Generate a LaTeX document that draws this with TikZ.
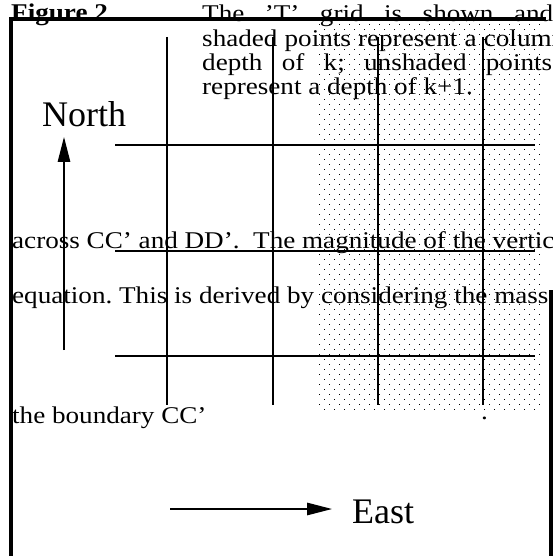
\documentclass[tikz,border=0pt]{standalone}
\usepackage{fontspec}
\setmainfont{Liberation Serif}
\newfontfamily\bodyf[FakeStretch=1.13]{Liberation Serif}
\usetikzlibrary{arrows.meta}
\frenchspacing
\tikzset{
  frameline/.style={line width=3.5pt},
  gridline/.style={line width=1.3pt},
  dirarrow/.style={line width=1.3pt,-{Triangle[length=25pt,width=12.5pt]}},
  bodytxt/.style={anchor=base west,inner sep=0pt,font=\bodyf\fontsize{24}{26}\selectfont},
  bigtxt/.style={anchor=base west,inner sep=0pt,font=\fontsize{36}{40}\selectfont},
}
\begin{document}
\begin{tikzpicture}[x=1pt,y=-1pt]
\useasboundingbox (0,0) rectangle (553,556);
\clip (0,0) rectangle (553,556);
% dotted shading
\foreach \k in {0,...,38}{
  \foreach \i in {0,...,22}{
    \fill (319+10*\i,24+10*\k) rectangle ++(1.2,1.2);
  }
  \foreach \i in {0,...,21}{
    \fill (324+10*\i,29+10*\k) rectangle ++(1.2,1.2);
  }
}
% frame
\coordinate (fTL) at (11,19);
\coordinate (fTR) at (546,19);
\coordinate (fBL) at (11,556);
\coordinate (fR1) at (551,290);
\coordinate (fR2) at (551,556);
\draw[frameline] (fTR) -- (fTL) -- (fBL);
\draw[frameline] (fR1) -- (fR2);
% grid
\foreach \x/\n in {167/a,273/b,378/c,483/d}{
  \coordinate (v\n1) at (\x,37);
  \coordinate (v\n2) at (\x,405);
  \draw[gridline] (v\n1) -- (v\n2);
}
\foreach \y/\n in {145/a,251/b,356/c}{
  \coordinate (h\n1) at (115,\y);
  \coordinate (h\n2) at (535,\y);
  \draw[gridline] (h\n1) -- (h\n2);
}
% texts
\node[bodytxt,font=\bodyf\bfseries\fontsize{24}{26}\selectfont] (fig) at (11,21) {Figure 2};
\node[bodytxt] (p1) at (202,22) {\makebox[351pt][s]{The ’T’ grid is shown and}};
\node[bodytxt] (p2) at (202,47) {\makebox[363pt][s]{shaded points represent a column}};
\node[bodytxt] (p3) at (202,71) {\makebox[350pt][s]{depth of k; unshaded points}};
\node[bodytxt] (p4) at (202,95) {represent a depth of k+1.};
\node[bodytxt] (m1) at (12,248) {across CC’ and DD’.\ \ The magnitude of the vertical};
\node[bodytxt] (m2) at (12,303) {equation. This is derived by considering the mass flux};
\node[bodytxt] (m3) at (12,423) {the boundary CC’};
\node[bodytxt] (m4) at (481,419) {.};
\node[bigtxt] (north) at (42,127) {North};
\node[bigtxt] (east) at (352,523) {East};
% arrows
\coordinate (nA) at (64,350);
\coordinate (nB) at (64,137);
\draw[dirarrow] (nA) -- (nB);
\coordinate (eA) at (170,509);
\coordinate (eB) at (332,509);
\draw[dirarrow] (eA) -- (eB);
\end{tikzpicture}
\end{document}
